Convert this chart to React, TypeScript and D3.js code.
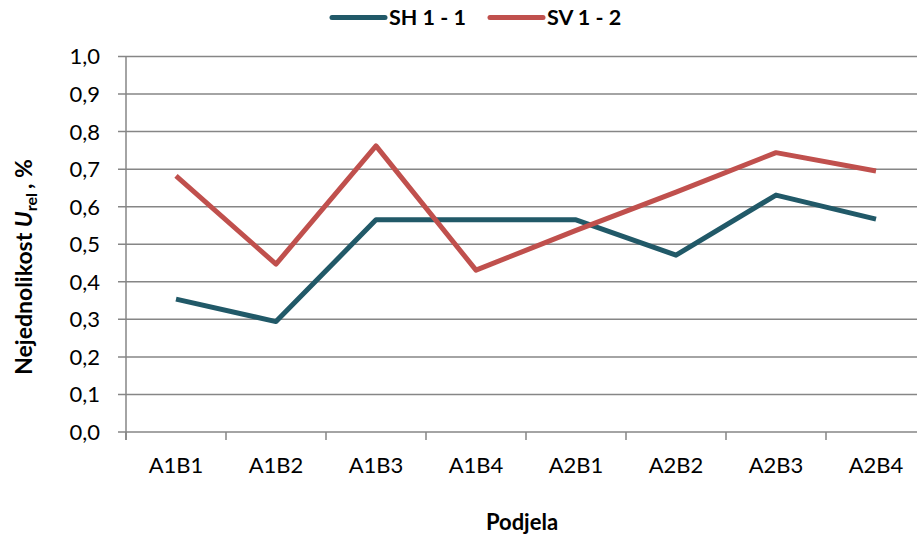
import React from "react";
import * as d3 from "d3";

const categories = ["A1B1", "A1B2", "A1B3", "A1B4", "A2B1", "A2B2", "A2B3", "A2B4"];
const seriesNames = ["SH 1 - 1", "SV 1 - 2"];
const shValues = [0.354, 0.294, 0.565, 0.565, 0.565, 0.471, 0.631, 0.567];
const svValues = [0.682, 0.447, 0.762, 0.431, 0.537, 0.639, 0.744, 0.695];
const yTicks = [0, 0.1, 0.2, 0.3, 0.4, 0.5, 0.6, 0.7, 0.8, 0.9, 1.0];
const colors = ["#215968", "#C0504D"];

const W = 917;
const H = 535;
const FONT = "Lato, 'Open Sans', sans-serif";

export default function App() {
  const left = 126;
  const right = 926;
  const top = 56.5;
  const bottom = 432;
  const x = d3.scaleBand<string>().domain(categories).range([left, right]);
  const y = d3.scaleLinear().domain([0, 1]).range([bottom, top]);
  const line = d3
    .line<number>()
    .x((_, i) => (x(categories[i]) as number) + x.bandwidth() / 2)
    .y((d) => y(d));
  const series = [shValues, svValues];
  const fmt = (v: number) => v.toFixed(1).replace(".", ",");
  const grid = "#868686";
  const tickEdges = categories.map((c) => x(c) as number).concat([right]);

  return (
    <svg
      width={W}
      height={H}
      style={{ position: "absolute", left: 0, top: 0, background: "#fff" }}
      fontFamily={FONT}
    >
      <rect width={W} height={H} fill="#fff" />
      {yTicks.map((t) => (
        <g key={t}>
          <line x1={118} x2={W} y1={y(t)} y2={y(t)} stroke={grid} strokeWidth={1.5} />
          <text x={100} y={y(t)} dy="0.36em" textAnchor="end" fontSize={22} fill="#000">
            {fmt(t)}
          </text>
        </g>
      ))}
      <line x1={left} x2={left} y1={top} y2={bottom + 8} stroke={grid} strokeWidth={1.5} />
      {tickEdges.map((e, i) => (
        <line key={i} x1={e} x2={e} y1={bottom} y2={bottom + 8} stroke={grid} strokeWidth={1.5} />
      ))}
      {categories.map((c) => (
        <text
          key={c}
          x={(x(c) as number) + x.bandwidth() / 2}
          y={473}
          textAnchor="middle"
          fontSize={22}
          fill="#000"
        >
          {c}
        </text>
      ))}
      {series.map((s, i) => (
        <path
          key={i}
          d={line(s) as string}
          fill="none"
          stroke={colors[i]}
          strokeWidth={5}
          strokeLinejoin="round"
          strokeLinecap="butt"
        />
      ))}
      {seriesNames.map((n, i) => {
        const lx = [332, 490][i];
        return (
          <g key={n}>
            <line x1={lx} x2={lx + 53} y1={17.5} y2={17.5} stroke={colors[i]} strokeWidth={5} strokeLinecap="round" />
            <text x={lx + 57} y={17.5} dy="0.36em" fontSize={21.5} fontWeight="bold" fill="#000">
              {n}
            </text>
          </g>
        );
      })}
      <text x={522} y={530} textAnchor="middle" fontSize={22} fontWeight="bold" fill="#000">
        Podjela
      </text>
      <text
        transform="translate(32,267) rotate(-90)"
        textAnchor="middle"
        fontSize={23}
        fontWeight="bold"
        fill="#000"
      >
        <tspan>Nejednolikost </tspan>
        <tspan fontStyle="italic">U</tspan>
        <tspan fontSize={16} dy={5}>rel</tspan>
        <tspan dy={-5} dx={4}>,  %</tspan>
      </text>
    </svg>
  );
}
